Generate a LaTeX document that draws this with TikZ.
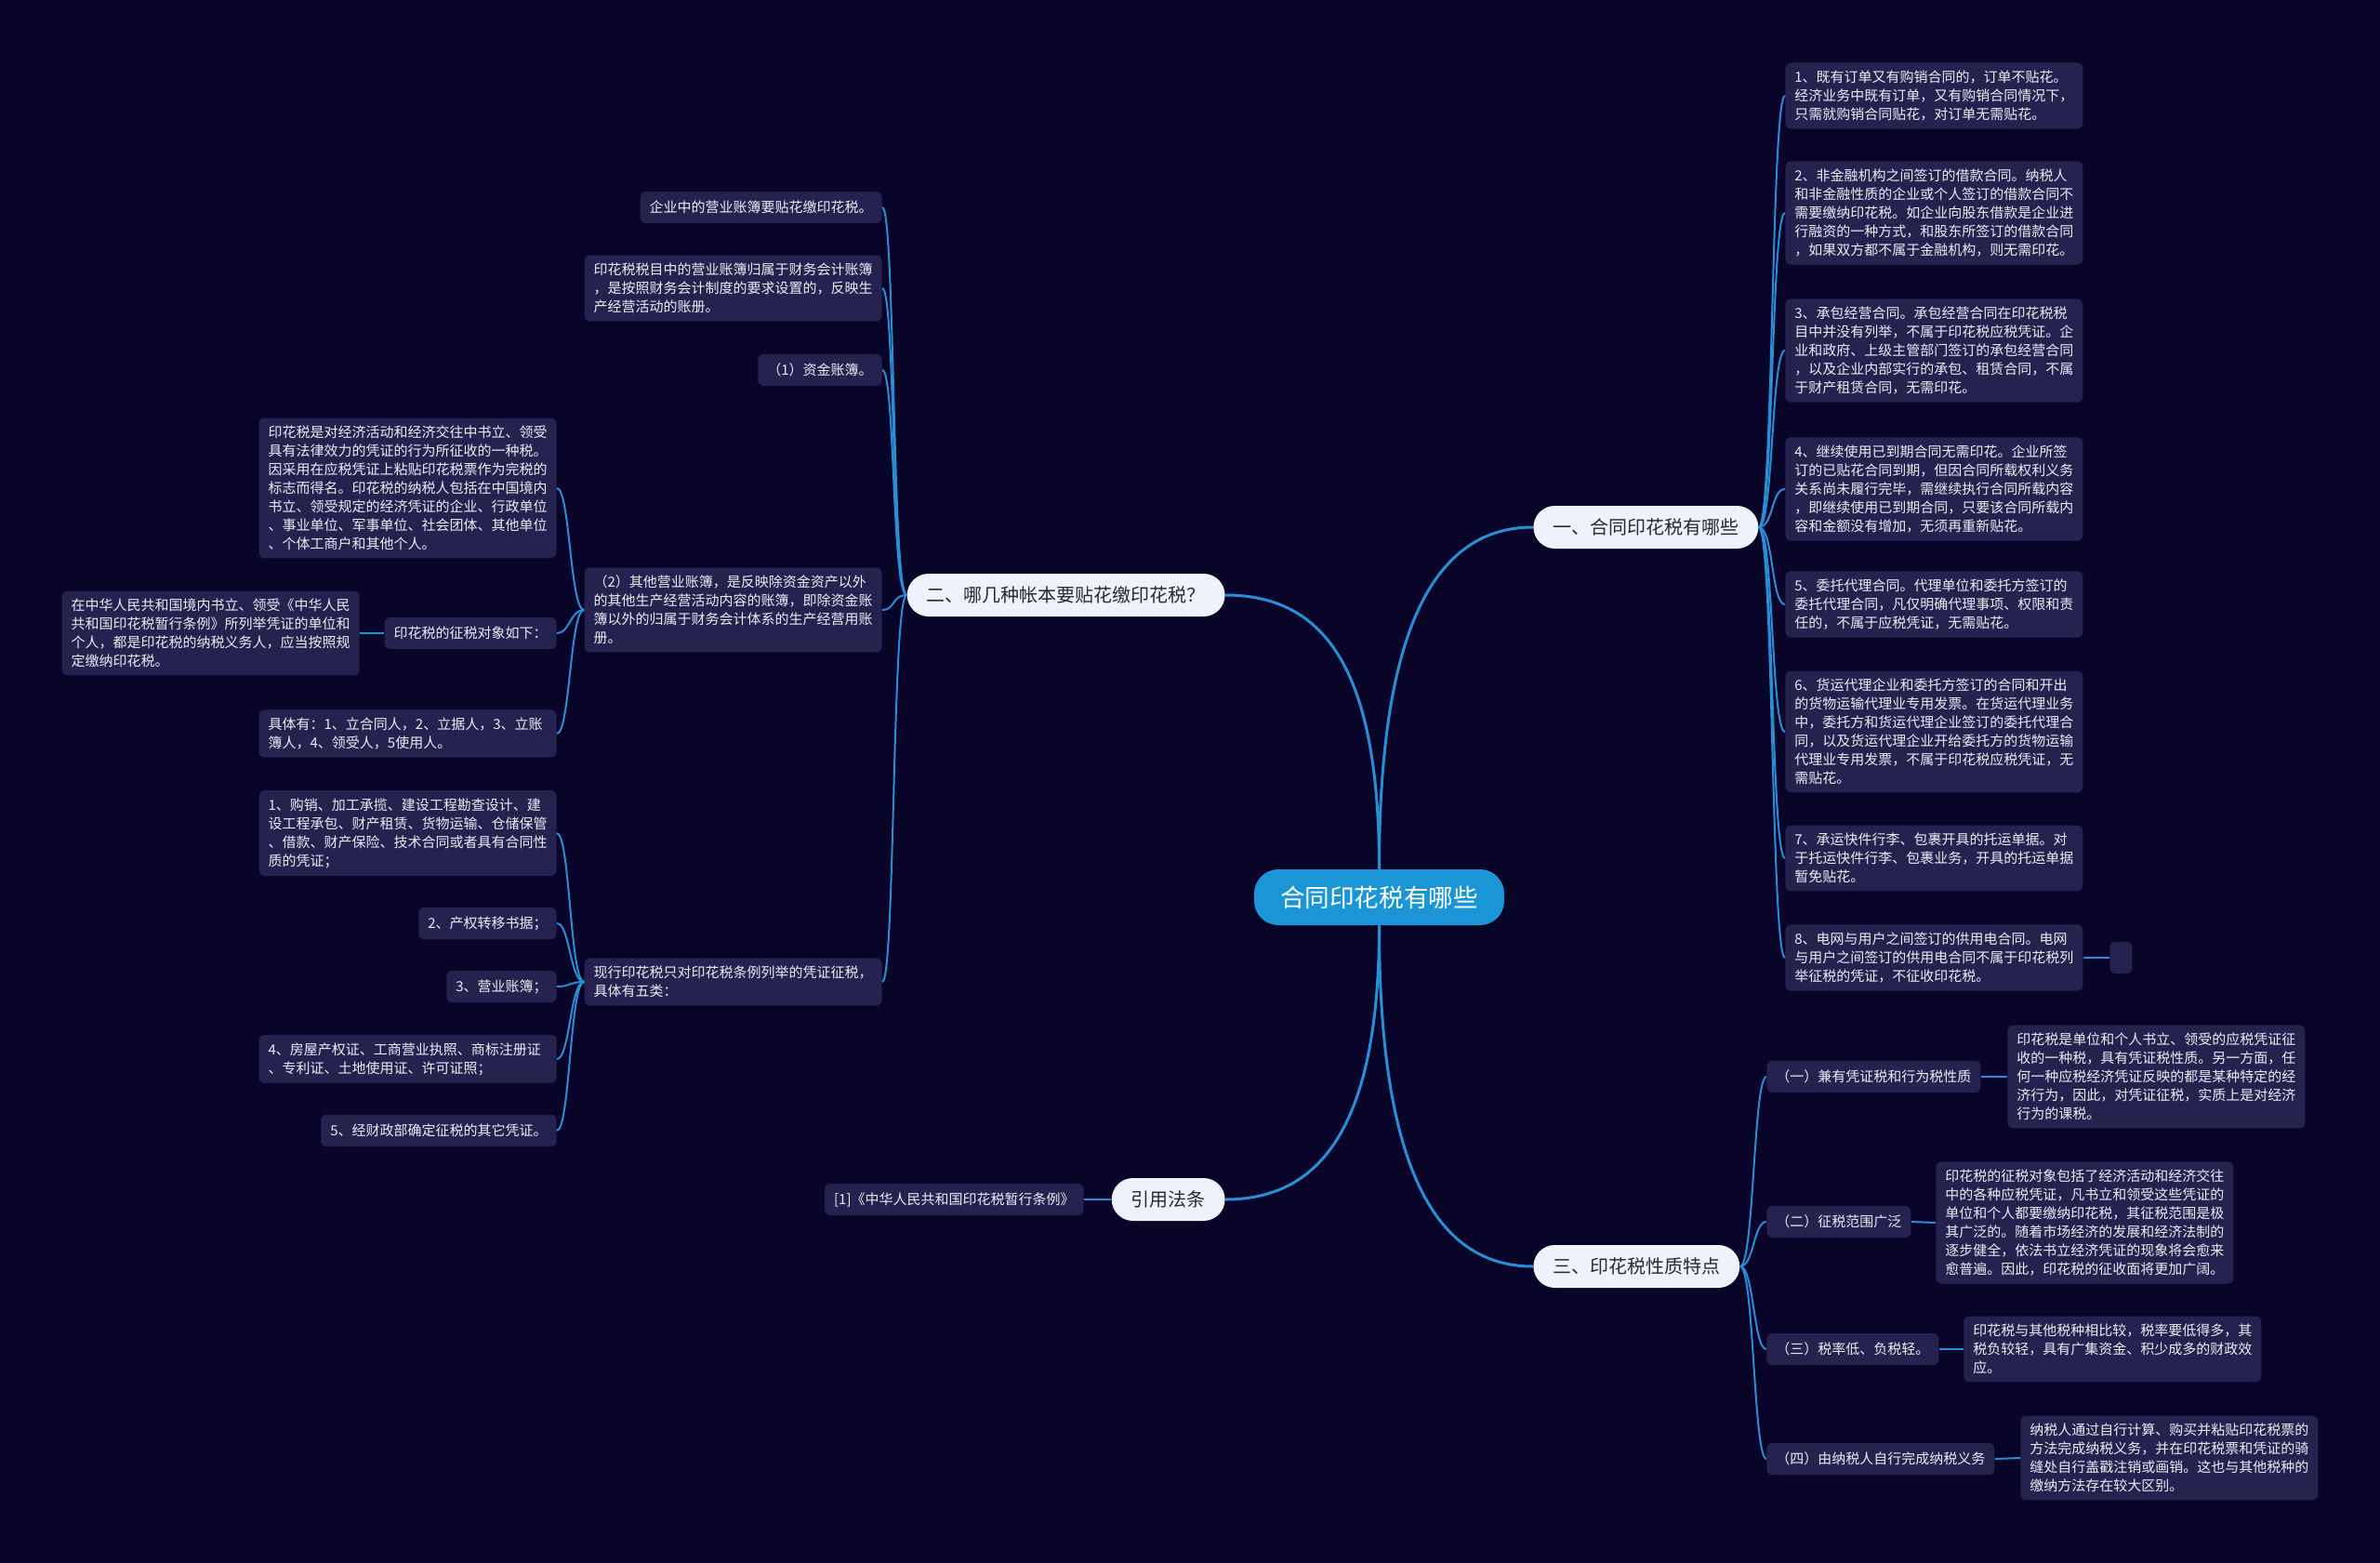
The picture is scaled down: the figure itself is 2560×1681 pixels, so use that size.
\documentclass[tikz,border=0pt]{standalone}
\usepackage{fontspec}
\setmainfont{Noto Sans CJK SC}
\usetikzlibrary{shapes.misc}

\definecolor{bgnavy}{RGB}{8,5,40}
\definecolor{cardfill}{RGB}{37,34,80}
\definecolor{cardtext}{RGB}{236,236,244}
\definecolor{linkblue}{RGB}{40,142,214}
\definecolor{rootblue}{RGB}{26,150,215}
\definecolor{pillfill}{RGB}{238,243,251}
\definecolor{pilltext}{RGB}{40,40,48}

\tikzset{
  card/.style={fill=cardfill, rounded corners=3pt, text=cardtext, align=left,
    font=\fontsize{7.5}{10}\selectfont, inner xsep=5pt, inner ysep=4.2pt, minimum height=17pt},
  wide/.style={card, text width=150pt},
  pill/.style={rounded rectangle, fill=pillfill, text=pilltext,
    font=\fontsize{10}{12}\selectfont, minimum height=23pt, inner xsep=9.5pt},
  root/.style={fill=rootblue, rounded corners=13pt, text=white,
    font=\fontsize{13.3}{16}\selectfont, minimum height=30pt, minimum width=134.5pt},
  trunk/.style={draw=linkblue, line width=1.5pt},
  link/.style={draw=linkblue, line width=1pt}
}

\begin{document}
\begin{tikzpicture}[x=0.5pt,y=-0.5pt]
  \fill[bgnavy] (0,0) rectangle (2560,1681);
  \useasboundingbox (0,0) rectangle (2560,1681);

  %main nodes
  \node[root] (ctr) at (1483.5,965) {合同印花税有哪些};
  \node[pill, anchor=west] (one) at (1649,567) {一、合同印花税有哪些};
  \node[pill, anchor=east] (two) at (1318,640) {二、哪几种帐本要贴花缴印花税？};
  \node[pill, anchor=west] (three) at (1649,1362) {三、印花税性质特点};
  \node[pill, anchor=east] (law) at (1318,1290) {引用法条};

  %right, part one
  \node[wide, anchor=west] (r1) at (1920,103) {1、既有订单又有购销合同的，订单不贴花。\\经济业务中既有订单，又有购销合同情况下，\\只需就购销合同贴花，对订单无需贴花。};
  \node[wide, anchor=west] (r2) at (1920,229) {2、非金融机构之间签订的借款合同。纳税人\\和非金融性质的企业或个人签订的借款合同不\\需要缴纳印花税。如企业向股东借款是企业进\\行融资的一种方式，和股东所签订的借款合同\\，如果双方都不属于金融机构，则无需印花。};
  \node[wide, anchor=west] (r3) at (1920,377) {3、承包经营合同。承包经营合同在印花税税\\目中并没有列举，不属于印花税应税凭证。企\\业和政府、上级主管部门签订的承包经营合同\\，以及企业内部实行的承包、租赁合同，不属\\于财产租赁合同，无需印花。};
  \node[wide, anchor=west] (r4) at (1920,526) {4、继续使用已到期合同无需印花。企业所签\\订的已贴花合同到期，但因合同所载权利义务\\关系尚未履行完毕，需继续执行合同所载内容\\，即继续使用已到期合同，只要该合同所载内\\容和金额没有增加，无须再重新贴花。};
  \node[wide, anchor=west] (r5) at (1920,650) {5、委托代理合同。代理单位和委托方签订的\\委托代理合同，凡仅明确代理事项、权限和责\\任的，不属于应税凭证，无需贴花。};
  \node[wide, anchor=west] (r6) at (1920,787) {6、货运代理企业和委托方签订的合同和开出\\的货物运输代理业专用发票。在货运代理业务\\中，委托方和货运代理企业签订的委托代理合\\同，以及货运代理企业开给委托方的货物运输\\代理业专用发票，不属于印花税应税凭证，无\\需贴花。};
  \node[wide, anchor=west] (r7) at (1920,923) {7、承运快件行李、包裹开具的托运单据。对\\于托运快件行李、包裹业务，开具的托运单据\\暂免贴花。};
  \node[wide, anchor=west] (r8) at (1920,1030) {8、电网与用户之间签订的供用电合同。电网\\与用户之间签订的供用电合同不属于印花税列\\举征税的凭证，不征收印花税。};
  \node[card, anchor=west, minimum width=12pt, inner xsep=0pt] (r8x) at (2269,1030) {};

  %right, part three
  \node[card, anchor=west] (t1) at (1900,1158) {（一）兼有凭证税和行为税性质};
  \node[wide, anchor=west] (t1a) at (2159,1158) {印花税是单位和个人书立、领受的应税凭证征\\收的一种税，具有凭证税性质。另一方面，任\\何一种应税经济凭证反映的都是某种特定的经\\济行为，因此，对凭证征税，实质上是对经济\\行为的课税。};
  \node[card, anchor=west] (t2) at (1900,1314) {（二）征税范围广泛};
  \node[wide, anchor=west] (t2a) at (2082,1315) {印花税的征税对象包括了经济活动和经济交往\\中的各种应税凭证，凡书立和领受这些凭证的\\单位和个人都要缴纳印花税，其征税范围是极\\其广泛的。随着市场经济的发展和经济法制的\\逐步健全，依法书立经济凭证的现象将会愈来\\愈普遍。因此，印花税的征收面将更加广阔。};
  \node[card, anchor=west] (t3) at (1900,1451) {（三）税率低、负税轻。};
  \node[wide, anchor=west] (t3a) at (2112,1451) {印花税与其他税种相比较，税率要低得多，其\\税负较轻，具有广集资金、积少成多的财政效\\应。};
  \node[card, anchor=west] (t4) at (1900,1569) {（四）由纳税人自行完成纳税义务};
  \node[wide, anchor=west] (t4a) at (2173,1568) {纳税人通过自行计算、购买并粘贴印花税票的\\方法完成纳税义务，并在印花税票和凭证的骑\\缝处自行盖戳注销或画销。这也与其他税种的\\缴纳方法存在较大区别。};

  %left, part two
  \node[card, anchor=east] (l1) at (949,223) {企业中的营业账簿要贴花缴印花税。};
  \node[wide, anchor=east] (l2) at (949,310) {印花税税目中的营业账簿归属于财务会计账簿\\，是按照财务会计制度的要求设置的，反映生\\产经营活动的账册。};
  \node[card, anchor=east] (l3) at (949,398) {（1）资金账簿。};
  \node[wide, anchor=east] (l4) at (949,656) {（2）其他营业账簿，是反映除资金资产以外\\的其他生产经营活动内容的账簿，即除资金账\\簿以外的归属于财务会计体系的生产经营用账\\册。};
  \node[wide, anchor=east] (l5) at (949,1056) {现行印花税只对印花税条例列举的凭证征税，\\具体有五类：};

  \node[wide, anchor=east] (l4a) at (599,525) {印花税是对经济活动和经济交往中书立、领受\\具有法律效力的凭证的行为所征收的一种税。\\因采用在应税凭证上粘贴印花税票作为完税的\\标志而得名。印花税的纳税人包括在中国境内\\书立、领受规定的经济凭证的企业、行政单位\\、事业单位、军事单位、社会团体、其他单位\\、个体工商户和其他个人。};
  \node[card, anchor=east] (l4b) at (599,681) {印花税的征税对象如下：};
  \node[wide, anchor=east] (l4bx) at (387,681) {在中华人民共和国境内书立、领受《中华人民\\共和国印花税暂行条例》所列举凭证的单位和\\个人，都是印花税的纳税义务人，应当按照规\\定缴纳印花税。};
  \node[wide, anchor=east] (l4c) at (599,789) {具体有：1、立合同人，2、立据人，3、立账\\簿人，4、领受人，5使用人。};

  \node[wide, anchor=east] (l5a) at (599,896) {1、购销、加工承揽、建设工程勘查设计、建\\设工程承包、财产租赁、货物运输、仓储保管\\、借款、财产保险、技术合同或者具有合同性\\质的凭证；};
  \node[card, anchor=east] (l5b) at (599,993) {2、产权转移书据；};
  \node[card, anchor=east] (l5c) at (599,1061) {3、营业账簿；};
  \node[wide, anchor=east] (l5d) at (599,1139) {4、房屋产权证、工商营业执照、商标注册证\\、专利证、土地使用证、许可证照；};
  \node[card, anchor=east] (l5e) at (599,1216) {5、经财政部确定征税的其它凭证。};

  \node[card, anchor=east] (cite) at (1166,1290) {[1]《中华人民共和国印花税暂行条例》};

  %trunk lines
  \draw[trunk] (ctr.north) .. controls +(0,-250) and +(-110,0) .. (one.west);
  \draw[trunk] (ctr.north) .. controls +(0,-210) and +(110,0) .. (two.east);
  \draw[trunk] (ctr.south) .. controls +(0,250) and +(-110,0) .. (three.west);
  \draw[trunk] (ctr.south) .. controls +(0,220) and +(100,0) .. (law.east);

  %branch lines
  \draw[link] (one.east) .. controls +(16,0) and +(-15,0) .. (r1.west);
  \draw[link] (one.east) .. controls +(16,0) and +(-15,0) .. (r2.west);
  \draw[link] (one.east) .. controls +(16,0) and +(-15,0) .. (r3.west);
  \draw[link] (one.east) .. controls +(16,0) and +(-15,0) .. (r4.west);
  \draw[link] (one.east) .. controls +(16,0) and +(-15,0) .. (r5.west);
  \draw[link] (one.east) .. controls +(16,0) and +(-15,0) .. (r6.west);
  \draw[link] (one.east) .. controls +(16,0) and +(-15,0) .. (r7.west);
  \draw[link] (one.east) .. controls +(16,0) and +(-15,0) .. (r8.west);
  \draw[link] (r8.east) -- (r8x.west);

  \draw[link] (three.east) .. controls +(15,0) and +(-14,0) .. (t1.west);
  \draw[link] (three.east) .. controls +(15,0) and +(-14,0) .. (t2.west);
  \draw[link] (three.east) .. controls +(15,0) and +(-14,0) .. (t3.west);
  \draw[link] (three.east) .. controls +(15,0) and +(-14,0) .. (t4.west);
  \draw[link] (t1.east) -- (t1a.west);
  \draw[link] (t2.east) -- (t2a.west);
  \draw[link] (t3.east) -- (t3a.west);
  \draw[link] (t4.east) -- (t4a.west);

  \draw[link] (two.west) .. controls +(-16,0) and +(14,0) .. (l1.east);
  \draw[link] (two.west) .. controls +(-16,0) and +(14,0) .. (l2.east);
  \draw[link] (two.west) .. controls +(-16,0) and +(14,0) .. (l3.east);
  \draw[link] (two.west) .. controls +(-16,0) and +(14,0) .. (l4.east);
  \draw[link] (two.west) .. controls +(-16,0) and +(14,0) .. (l5.east);

  \draw[link] (l4.west) .. controls +(-15,0) and +(14,0) .. (l4a.east);
  \draw[link] (l4.west) .. controls +(-15,0) and +(14,0) .. (l4b.east);
  \draw[link] (l4.west) .. controls +(-15,0) and +(14,0) .. (l4c.east);
  \draw[link] (l4b.west) -- (l4bx.east);

  \draw[link] (l5.west) .. controls +(-15,0) and +(14,0) .. (l5a.east);
  \draw[link] (l5.west) .. controls +(-15,0) and +(14,0) .. (l5b.east);
  \draw[link] (l5.west) .. controls +(-15,0) and +(14,0) .. (l5c.east);
  \draw[link] (l5.west) .. controls +(-15,0) and +(14,0) .. (l5d.east);
  \draw[link] (l5.west) .. controls +(-15,0) and +(14,0) .. (l5e.east);

  \draw[link] (law.west) -- (cite.east);
\end{tikzpicture}
\end{document}
